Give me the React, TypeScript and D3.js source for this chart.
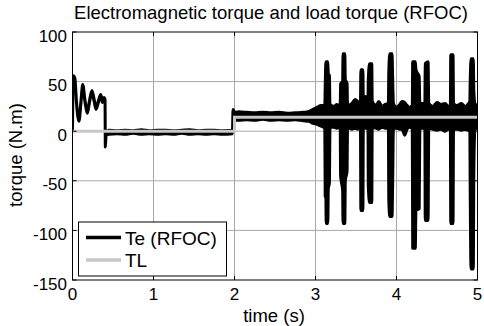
import React from "react";
import * as d3 from "d3";

// ---------- data ----------
const xTicks = [0, 1, 2, 3, 4, 5];
const yTicks = [-150, -100, -50, 0, 50, 100];

// Load torque TL (step)
const tlTime = [0, 2.0, 2.0, 5.0];
const tlValue = [0, 0, 14, 14];

// Electromagnetic torque Te: [time, lower envelope, upper envelope]
const teStartup: [number, number, number][] = [
  [0, 0, 0], [0.004, 37, 39], [0.012, 54, 56], [0.03, 51, 53], [0.05, 27, 29],
  [0.08, 10, 12], [0.105, 29, 31], [0.126, 45, 47], [0.155, 29, 31], [0.183, 18, 20],
  [0.21, 29, 31], [0.24, 39, 41], [0.265, 31, 33], [0.29, 22, 24], [0.32, 29, 31],
  [0.348, 35, 37], [0.37, 29, 31], [0.39, 32, 34], [0.402, 30, 32], [0.405, -16, -15],
  [0.415, -4, -1],
];
const teLowLoad: [number, number, number][] = [
  [0.45, -3, 1], [0.55, -2.5, 0.5], [0.65, -3, 1], [0.75, -2, 0.5], [0.85, -3, 1.5],
  [0.95, -2.5, 0.5], [1.05, -3, 1], [1.15, -2.5, 1], [1.25, -3, 0.5], [1.35, -2, 1],
  [1.45, -3, 1.5], [1.55, -2.5, 0.5], [1.65, -3, 1], [1.75, -2.5, 1], [1.85, -3, 0.5],
  [1.975, -2.5, 1],
];
const teLoaded: [number, number, number][] = [
  [1.982, 10, 22], [1.99, 10, 21], [2.0, 11, 19], [2.05, 11, 19.5], [2.15, 11.5, 19],
  [2.25, 11, 18.5], [2.35, 12, 19], [2.45, 11, 18.5], [2.55, 11.5, 19], [2.65, 11, 18],
  [2.75, 11.5, 18.5], [2.85, 10.5, 19], [2.92, 10, 20], [2.97, 8, 22], [3.02, 7, 24],
  [3.07, 5, 26],
];
const teOscillating: [number, number, number][] = [
  [3.1, 4, 26], [3.115, 3, 27], [3.12, -66, 45], [3.128, -66, 70], [3.132, -93, 70],
  [3.152, -93, 70], [3.158, -58, 58], [3.172, -52, 56], [3.178, 4, 27], [3.23, 4, 25],
  [3.26, 3, 27], [3.305, 4, 26], [3.31, -45, 48], [3.335, -60, 50], [3.34, -93, 78],
  [3.362, -93, 78], [3.368, -50, 52], [3.39, -40, 48], [3.395, 4, 26], [3.45, 2, 28],
  [3.49, 3, 32], [3.52, 2, 30], [3.555, 4, 28], [3.56, -80, 62], [3.585, -80, 62],
  [3.59, 4, 32], [3.62, 3, 35], [3.648, 4, 30], [3.652, -55, 52], [3.668, -72, 68],
  [3.695, -72, 68], [3.7, 4, 30], [3.75, 3, 26], [3.78, 2, 30], [3.82, 4, 25],
  [3.86, 3, 27], [3.9, 3, 28], [3.905, -70, 60], [3.918, -86, 78], [3.945, -86, 78],
  [3.952, -55, 55], [3.962, 3, 28], [4.0, 3, 24], [4.04, 2, 27], [4.07, 2, 30],
  [4.1, -4, 29], [4.13, 2, 26], [4.16, 4, 24], [4.195, 3, 26], [4.2, -118, 70],
  [4.232, -118, 70], [4.24, -80, 62], [4.28, -78, 55], [4.288, 3, 28], [4.35, 3, 28],
  [4.355, -90, 68], [4.39, -90, 70], [4.398, 3, 28], [4.45, 2, 25], [4.5, 1, 29],
  [4.55, 2, 27], [4.6, 0, 28], [4.64, 2, 25], [4.665, 2, 26], [4.67, -93, 77],
  [4.698, -93, 77], [4.704, 2, 28], [4.75, 2, 26], [4.8, 1, 28], [4.85, 2, 25],
  [4.88, 1, 27], [4.905, 2, 30], [4.91, -60, 50], [4.92, -139, 73], [4.948, -139, 73],
  [4.955, -40, 40], [4.968, 2, 28], [5.0, 3, 25],
];

const titleText = "Electromagnetic torque and load torque (RFOC)";
const xLabel = "time (s)";
const yLabel = "torque (N.m)";
const legendLabels = ["Te (RFOC)", "TL"];

// ---------- layout ----------
const W = 484;
const H = 326;
const left = 72.5;
const right = 477.5;
const top = 32;
const bottom = 280;
const font = "'Liberation Sans', Arial, Helvetica, sans-serif";

export default function App() {
  const x = d3.scaleLinear().domain([0, 5]).range([left, right]);
  const y = d3.scaleLinear().domain([-150, 100]).range([bottom, top]);

  const te = [...teStartup, ...teLowLoad, ...teLoaded, ...teOscillating];
  const area = d3
    .area<[number, number, number]>()
    .x((d) => x(d[0]))
    .y0((d) => y(d[1]))
    .y1((d) => y(d[2]))
    .curve(d3.curveMonotoneX);
  const tePath = area(te) || "";

  const tlPts = tlTime.map((t, i) => [t, tlValue[i]] as [number, number]);
  const tlPath =
    d3
      .line<[number, number]>()
      .x((d) => x(d[0]))
      .y((d) => y(d[1]))(tlPts) || "";

  const tick = 4;
  const gridColor = "#a8a8a8";

  return (
    <svg
      width={W}
      height={H}
      style={{ position: "absolute", left: 0, top: 0, background: "#fff" }}
      fontFamily={font}
    >
      <rect x={0} y={0} width={W} height={H} fill="#fff" />
      <defs>
        <clipPath id="plotClip">
          <rect x={left} y={top} width={right - left} height={bottom - top} />
        </clipPath>
      </defs>

      {/* grid */}
      {xTicks.slice(1, -1).map((t) => (
        <line key={"gx" + t} x1={x(t)} x2={x(t)} y1={top} y2={bottom} stroke={gridColor} strokeWidth={1} />
      ))}
      {yTicks.slice(1, -1).map((t) => (
        <line key={"gy" + t} x1={left} x2={right} y1={y(t)} y2={y(t)} stroke={gridColor} strokeWidth={1} />
      ))}

      {/* data */}
      <g clipPath="url(#plotClip)">
        <path d={tePath} fill="#000" stroke="#000" strokeWidth={3} strokeLinejoin="round" />
        <path d={tlPath} fill="none" stroke="#c8c8c8" strokeWidth={3} />
      </g>

      {/* axes box */}
      <rect x={left} y={top} width={right - left} height={bottom - top} fill="none" stroke="#000" strokeWidth={1} />
      {xTicks.map((t) => (
        <g key={"tx" + t}>
          <line x1={x(t)} x2={x(t)} y1={bottom} y2={bottom - tick} stroke="#000" />
          <line x1={x(t)} x2={x(t)} y1={top} y2={top + tick} stroke="#000" />
          <text x={x(t)} y={299.5} fontSize={17} textAnchor="middle" fill="#000">
            {t}
          </text>
        </g>
      ))}
      {yTicks.map((t) => (
        <g key={"ty" + t}>
          <line x1={left} x2={left + tick} y1={y(t)} y2={y(t)} stroke="#000" />
          <line x1={right} x2={right - tick} y1={y(t)} y2={y(t)} stroke="#000" />
          <text x={67} y={y(t) + 9.5} fontSize={17} textAnchor="end" fill="#000">
            {t}
          </text>
        </g>
      ))}

      {/* title and labels */}
      <text x={271} y={19} fontSize={18.5} textAnchor="middle" fill="#000">
        {titleText}
      </text>
      <text x={274} y={322} fontSize={18.5} textAnchor="middle" fill="#000">
        {xLabel}
      </text>
      <text
        transform={`translate(21.5, 155) rotate(-90)`}
        fontSize={18.5}
        textAnchor="middle"
        fill="#000"
      >
        {yLabel}
      </text>

      {/* legend */}
      <g>
        <rect x={78.5} y={222} width={148} height={54} fill="#fff" stroke="#000" strokeWidth={1} />
        <line x1={86} x2={121} y1={237.5} y2={237.5} stroke="#000" strokeWidth={3.5} />
        <line x1={86} x2={121} y1={260} y2={260} stroke="#c8c8c8" strokeWidth={3.5} />
        <text x={125} y={244.5} fontSize={19} fill="#000">
          {legendLabels[0]}
        </text>
        <text x={125} y={267} fontSize={19} fill="#000">
          {legendLabels[1]}
        </text>
      </g>
    </svg>
  );
}
